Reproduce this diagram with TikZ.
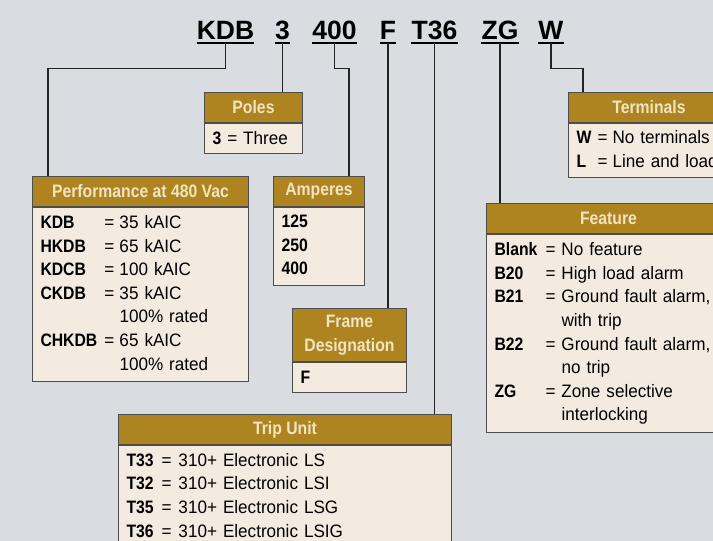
\documentclass[tikz,border=0pt]{standalone}
\usepackage{fontspec}
\setmainfont{Liberation Sans}[FakeStretch=0.95,
    BoldFont={Liberation Sans Bold}, BoldFeatures={FakeStretch=0.875}]
\newfontfamily\codefont{Liberation Sans}
\usetikzlibrary{positioning}
\definecolor{panelgray}{RGB}{217,220,225}
\definecolor{headgold}{RGB}{173,132,32}
\definecolor{headtext}{RGB}{241,228,194}
\definecolor{bodycream}{RGB}{243,235,223}
\definecolor{edgegray}{RGB}{77,77,77}
\definecolor{leadgray}{RGB}{35,35,35}
\newcommand{\boxfont}{\fontsize{18}{23.6}\selectfont}

\begin{document}
\begin{tikzpicture}[
    x=1pt, y=-1pt,
    code/.style={font=\codefont\bfseries\fontsize{26.5}{30}\selectfont,
                 anchor=base, inner xsep=0pt, inner ysep=4pt, text depth=0pt},
    uline/.style={line width=2pt, draw=black},
    lead/.style={draw=leadgray, line width=1.2pt},
    head/.style={rectangle, draw=edgegray, fill=headgold, line width=1pt,
                 text=headtext, font=\boxfont\bfseries, align=center,
                 anchor=north west, inner sep=0pt, minimum height=30pt},
    body/.style={rectangle, draw=edgegray, fill=bodycream, line width=1pt,
                 font=\boxfont, align=left, inner xsep=8pt, inner ysep=0pt},
]

\useasboundingbox (0,0) rectangle (713,541);
\clip (0,0) rectangle (713,541);
\fill[panelgray] (0,0) rectangle (713,541);

% === Catalog number ===
\node[code] (kdb) at (225.5,39) {KDB};
\node[code] (cpoles) at (282.5,39) {3};
\node[code] (camps) at (334.5,39) {400};
\node[code] (cframe) at (388,39) {F};
\node[code] (ctrip) at (434.5,39) {T36};
\node[code] (cfeat) at (500,39) {ZG};
\node[code] (cterm) at (551,39) {W};

\foreach \c in {kdb,cpoles,camps,cframe,ctrip,cfeat,cterm}
    \draw[uline] (\c.south west) -- (\c.south east);

% === Poles ===
\node[head, minimum width=98pt] (poleshead) at (204,92) {Poles};
\node[body, below=0pt of poleshead, text width=82pt, minimum height=30pt]
    (polesbody) {\textbf{3} = Three};

% === Performance ===
\node[head, minimum width=216pt] (perfhead) at (32,176) {Performance at 480 Vac};
\node[body, below=0pt of perfhead, text width=200pt, minimum height=174pt]
    (perfbody) {%
    \begin{tabular}{@{}p{64pt}@{}p{15pt}@{}l@{}}
    \textbf{KDB} & = & 35 kAIC\\
    \textbf{HKDB} & = & 65 kAIC\\
    \textbf{KDCB} & = & 100 kAIC\\
    \textbf{CKDB} & = & 35 kAIC\\
     & & 100\% rated\\
    \textbf{CHKDB} & = & 65 kAIC\\
     & & 100\% rated
    \end{tabular}};

% === Amperes ===
\node[head, minimum width=91pt] (amphead) at (273,176) {Amperes};
\node[body, below=0pt of amphead, text width=75pt, minimum height=78pt]
    (ampbody) {%
    \begin{tabular}{@{}l@{}}
    \textbf{125}\\
    \textbf{250}\\
    \textbf{400}
    \end{tabular}};

% === Frame designation ===
\node[head, minimum width=114pt, minimum height=53pt] (framehead) at (292,308)
    {Frame\\Designation};
\node[body, below=0pt of framehead, text width=98pt, minimum height=30pt]
    (framebody) {\textbf{F}};

% === Trip unit ===
\node[head, minimum width=333pt] (triphead) at (118,414) {Trip Unit};
\node[body, below=0pt of triphead, text width=317pt, minimum height=103pt]
    (tripbody) {%
    \begin{tabular}{@{}p{35pt}@{}p{17pt}@{}l@{}}
    \textbf{T33} & = & 310+ Electronic LS\\
    \textbf{T32} & = & 310+ Electronic LSI\\
    \textbf{T35} & = & 310+ Electronic LSG\\
    \textbf{T36} & = & 310+ Electronic LSIG
    \end{tabular}};

% === Feature ===
\node[head, minimum width=244pt] (feathead) at (486,203) {Feature};
\node[body, below=0pt of feathead, text width=228pt, minimum height=198pt]
    (featbody) {%
    \begin{tabular}{@{}p{51pt}@{}p{16pt}@{}l@{}}
    \textbf{Blank} & = & No feature\\
    \textbf{B20} & = & High load alarm\\
    \textbf{B21} & = & Ground fault alarm,\\
     & & with trip\\
    \textbf{B22} & = & Ground fault alarm,\\
     & & no trip\\
    \textbf{ZG} & = & Zone selective\\
     & & interlocking
    \end{tabular}};

% === Terminals ===
\node[head, minimum width=161pt] (termhead) at (568,92) {Terminals};
\node[body, below=0pt of termhead, text width=145pt, minimum height=54pt]
    (termbody) {%
    \begin{tabular}{@{}p{21pt}@{}p{15pt}@{}l@{}}
    \textbf{W} & = & No terminals\\
    \textbf{L} & = & Line and load
    \end{tabular}};

% === Leader lines ===
\draw[lead] (kdb.south) -- ++(0,25) -| ([xshift=16pt]perfhead.north west);
\draw[lead] (cpoles.south) -- (cpoles.south |- poleshead.north);
\draw[lead] (camps.south) -- ++(0,25) -| ([xshift=-16pt]amphead.north east);
\draw[lead] (cframe.south) -- (cframe.south |- framehead.north);
\draw[lead] (ctrip.south) -- (ctrip.south |- triphead.north);
\draw[lead] (cfeat.south) -- (cfeat.south |- feathead.north);
\draw[lead] (cterm.south) -- ++(0,25) -| ([xshift=15pt]termhead.north west);

\end{tikzpicture}
\end{document}
